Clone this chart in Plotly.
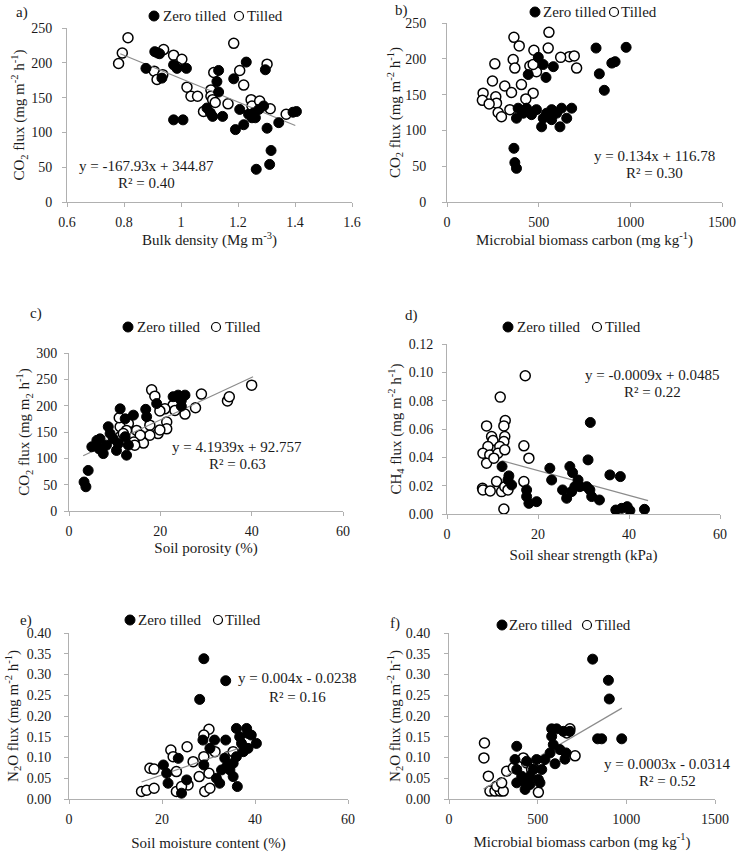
import plotly.graph_objects as go

W, H = 738, 853
FONT = "Liberation Serif, Times New Roman, Times, serif"
TXT = "#1a1a1a"
AX = "#b0b0b0"

# ---------------- data ----------------
a_zt_x = [0.877,0.908,0.918,0.925,0.933,0.974,0.986,1.019,0.974,1.007,1.091,1.103,1.111,1.132,1.126,1.132,1.146,1.185,1.191,1.206,1.229,1.220,1.249,1.255,1.273,1.290,1.296,1.302,1.316,1.311,1.264,1.343,1.393,1.405,1.261,1.237]
a_zt_y = [192,216,214,213,178,197,192,192,118,118,135,128,123,189,173,158,123,177,104,133,201,111,121,128,133,138,190,106,74,54,47,114,129,130,121,126]
a_t_x = [0.814,0.794,0.781,0.939,0.974,1.003,0.906,0.916,0.936,0.986,1.021,1.035,1.058,1.079,1.105,1.105,1.111,1.115,1.120,1.165,1.185,1.206,1.220,1.246,1.249,1.276,1.302,1.313,1.369]
a_t_y = [236,214,199,219,211,205,188,176,183,194,165,152,152,130,161,152,147,186,143,141,228,189,168,147,138,145,198,134,126]
a_fit_x = [0.787, 1.401]
a_fit_y = [213, 110]

b_zt_x = [813,977,831,858,899,917,365,370,379,498,525,540,580,443,388,379,434,461,488,516,543,571,598,625,653,616,571,680,416,525]
b_zt_y = [215,216,179,156,194,196,75,55,47,202,192,174,189,178,131,117,131,122,129,105,124,129,124,131,117,105,115,131,124,117]
b_t_x = [365,394,556,552,474,361,370,261,248,315,406,197,193,266,270,230,279,297,352,343,470,430,452,488,470,667,694,707,620]
b_t_y = [230,218,237,215,212,199,187,193,169,162,164,152,142,147,138,137,125,119,153,129,152,144,190,182,192,203,204,187,202]

c_zt_x = [3.3,3.7,4.2,5.0,6.1,6.6,7.5,8.2,8.6,9.7,10.8,12.3,12.6,13.0,10.4,6.8,11.2,12.3,14.1,16.8,17.0,19.2,22.8,23.9,25.4,24.6,24.6,9.0]
c_zt_y = [55,46,77,122,134,118,109,125,160,137,128,141,106,125,115,137,194,175,182,193,179,204,217,220,220,210,199,147]
c_t_x = [18.1,18.8,29.0,40.0,34.7,35.1,27.7,25.4,22.8,23.2,21.0,19.9,21.4,21.4,19.5,17.7,17.7,16.3,14.8,15.6,14.2,14.4,13.0,11.2,11.0,11.2,12.6,11.9,19.9]
c_t_y = [230,218,222,239,209,217,196,184,201,191,194,190,169,156,147,163,144,129,153,144,131,125,166,160,177,141,153,147,154]
c_fit_x = [3.1, 40.3]
c_fit_y = [105, 255]

d_zt_x = [12.1,13.6,14.2,13.4,17.5,17.5,18.0,19.7,22.6,23.0,25.4,26.3,27.0,27.6,28.8,28.1,29.2,31.0,30.7,31.4,31.8,31.5,33.5,35.8,38.1,37.1,38.4,39.6,40.2,43.4,27.4]
d_zt_y = [0.0335,0.0269,0.0205,0.0240,0.0170,0.0123,0.0075,0.0087,0.0323,0.0240,0.0170,0.0111,0.0335,0.0292,0.0240,0.0193,0.0193,0.0382,0.0193,0.0170,0.0123,0.0646,0.0099,0.0276,0.0264,0.0028,0.0040,0.0052,0.0024,0.0033,0.0158]
d_t_x = [17.2,11.7,8.7,12.8,12.5,12.7,12.5,9.8,10.1,9.0,11.6,7.9,9.4,11.2,12.7,8.7,10.3,16.9,18.0,7.8,7.9,9.5,10.9,12.0,12.7,16.9,12.5,13.4]
d_t_y = [0.0976,0.0825,0.0622,0.0660,0.0622,0.0547,0.0512,0.0547,0.0519,0.0476,0.0476,0.0429,0.0417,0.0429,0.0453,0.0358,0.0394,0.0481,0.0394,0.0182,0.0170,0.0163,0.0229,0.0158,0.0193,0.0229,0.0035,0.0170]
d_fit_x = [12.0, 44.2]
d_fit_y = [0.0377, 0.0094]

e_zt_x = [29.0,33.7,28.1,20.3,21.0,21.3,23.5,25.3,24.2,28.8,31.3,30.3,29.0,31.7,32.4,33.5,33.7,34.6,35.3,36.2,36.0,38.2,38.5,39.2,40.3,37.1,37.5,36.0,35.3,38.5,36.7,33.9,32.8]
e_zt_y = [0.338,0.285,0.240,0.082,0.062,0.038,0.098,0.046,0.014,0.142,0.142,0.122,0.082,0.050,0.038,0.098,0.142,0.070,0.054,0.030,0.170,0.170,0.158,0.154,0.134,0.134,0.114,0.102,0.086,0.122,0.150,0.078,0.070]
e_t_x = [30.1,29.0,25.4,21.9,22.4,26.7,17.4,18.3,15.6,16.7,18.3,23.1,23.1,25.6,28.0,29.2,30.3,30.1,29.0,31.4,34.2,35.3,24.2]
e_t_y = [0.168,0.154,0.126,0.118,0.102,0.090,0.074,0.072,0.018,0.021,0.026,0.066,0.018,0.034,0.054,0.018,0.026,0.062,0.102,0.114,0.102,0.114,0.030]
e_fit_x = [15.6, 40.3]
e_fit_y = [0.041, 0.137]

f_zt_x = [810,899,904,838,861,974,579,607,645,682,579,588,626,660,654,598,541,523,504,513,382,372,382,410,382,429,457,476,494,438,429,570,457]
f_zt_y = [0.337,0.286,0.241,0.145,0.145,0.145,0.169,0.169,0.163,0.163,0.151,0.131,0.119,0.111,0.096,0.085,0.095,0.071,0.047,0.039,0.127,0.095,0.071,0.055,0.039,0.039,0.055,0.071,0.095,0.091,0.023,0.111,0.035]
f_t_x = [200,197,222,231,259,288,269,306,297,325,363,438,504,682,711,513,466,419,664]
f_t_y = [0.135,0.099,0.055,0.019,0.019,0.019,0.031,0.019,0.039,0.067,0.075,0.087,0.016,0.169,0.104,0.091,0.071,0.099,0.159]
f_fit_x = [195, 975]
f_fit_y = [0.024, 0.219]

legend_labels = ["Zero tilled", "Tilled"]

CO2 = "CO<sub>2</sub> flux (mg m<sup>-2</sup> h<sup>-1</sup>)"
CO2c = "CO<sub>2</sub> flux (mg m<sub>2</sub> h<sup>-1</sup>)"
CH4 = "CH<sub>4</sub> flux (mg m<sup>-2</sup> h<sup>-1</sup>)"
N2O = "N<sub>2</sub>O flux (mg m<sup>-2</sup> h<sup>-1</sup>)"
MBC = "Microbial biomass carbon (mg kg<sup>-1</sup>)"

def px(x): return x / W
def py(y): return 1 - y / H

panels = [
    dict(key="a", zt=(a_zt_x, a_zt_y), t=(a_t_x, a_t_y), fit=(a_fit_x, a_fit_y),
         box=(67, 352, 28, 202), xr=[0.6, 1.6], xd=0.2, yr=[0, 250], yd=50, yf="",
         xt="Bulk density (Mg m<sup>-3</sup>)", yt=CO2, yso=2, ylso=7, xso=4,
         leg=(154, 161, 239, 245, 16), lab=(22, 12), eq=("y = -167.93x + 344.87", "R² = 0.40"), eqp=(146, 166, 183)),
    dict(key="b", zt=(b_zt_x, b_zt_y), t=(b_t_x, b_t_y), fit=None,
         box=(447, 722, 23, 202), xr=[0, 1500], xd=500, yr=[0, 250], yd=50, yf="",
         xt=MBC, yt=CO2, yso=0, ylso=13, xso=4,
         leg=(535, 541, 614, 619, 12), lab=(401, 10), eq=("y = 0.134x + 116.78", "R² = 0.30"), eqp=(654, 156, 173)),
    dict(key="c", zt=(c_zt_x, c_zt_y), t=(c_t_x, c_t_y), fit=(c_fit_x, c_fit_y),
         box=(69, 343, 353, 511), xr=[0, 60], xd=20, yr=[0, 300], yd=50, yf="",
         xt="Soil porosity (%)", yt=CO2c, yso=2, ylso=4, xso=4,
         leg=(128, 135, 216, 223, 327), lab=(36, 314), eq=("y = 4.1939x + 92.757", "R² = 0.63"), eqp=(237, 447, 464)),
    dict(key="d", zt=(d_zt_x, d_zt_y), t=(d_t_x, d_t_y), fit=(d_fit_x, d_fit_y),
         box=(447, 720, 344, 514), xr=[0, 60], xd=20, yr=[0, 0.12], yd=0.02, yf=".2f",
         xt="Soil shear strength (kPa)", yt=CH4, yso=3, ylso=6, xso=8,
         leg=(508, 515, 597, 603, 327), lab=(411, 316), eq=("y = -0.0009x + 0.0485", "R² = 0.22"), eqp=(652, 375, 392)),
    dict(key="e", zt=(e_zt_x, e_zt_y), t=(e_t_x, e_t_y), fit=(e_fit_x, e_fit_y),
         box=(69, 348, 633, 799), xr=[0, 60], xd=20, yr=[0, 0.40], yd=0.05, yf=".2f",
         xt="Soil moisture content (%)", yt=N2O, yso=4, ylso=10, xso=11,
         leg=(130, 136, 218, 223, 620), lab=(26, 620), eq=("y = 0.004x - 0.0238", "R² = 0.16"), eqp=(297, 678, 697)),
    dict(key="f", zt=(f_zt_x, f_zt_y), t=(f_t_x, f_t_y), fit=(f_fit_x, f_fit_y),
         box=(449, 715, 633, 799), xr=[0, 1500], xd=500, yr=[0, 0.40], yd=0.05, yf=".2f",
         xt=MBC, yt=N2O, yso=1, ylso=11, xso=10,
         leg=(502, 507, 587, 593, 625), lab=(395, 623), eq=("y = 0.0003x - 0.0314", "R² = 0.52"), eqp=(667, 764, 781)),
]

fig = go.Figure()
annotations = []
shapes = []
layout = {}
tfont = dict(family=FONT, size=15, color=TXT)

for i, p in enumerate(panels):
    n = "" if i == 0 else str(i + 1)
    xa, ya = "x" + n, "y" + n
    x0, x1, y0, y1 = p["box"]
    fig.add_trace(go.Scatter(x=p["t"][0], y=p["t"][1], xaxis=xa, yaxis=ya, mode="markers",
                             name=legend_labels[1], showlegend=False,
                             marker=dict(size=10, color="white", line=dict(color="black", width=1.5))))
    if p["fit"] is not None:
        fig.add_trace(go.Scatter(x=p["fit"][0], y=p["fit"][1], xaxis=xa, yaxis=ya, mode="lines",
                                 showlegend=False, line=dict(color="#8c8c8c", width=1.2)))
    fig.add_trace(go.Scatter(x=p["zt"][0], y=p["zt"][1], xaxis=xa, yaxis=ya, mode="markers",
                             name=legend_labels[0], showlegend=False,
                             marker=dict(size=10, color="black", line=dict(color="black", width=1))))
    common = dict(showline=True, linecolor=AX, linewidth=1, showgrid=False, zeroline=False,
                  ticks="outside", tickcolor=AX, ticklen=4, tickwidth=1, automargin=False,
                  tickfont=dict(family=FONT, size=14, color=TXT), fixedrange=True)
    layout["xaxis" + n] = dict(common, domain=[px(x0), px(x1)], anchor=ya, range=p["xr"], dtick=p["xd"],
                               tick0=0, ticklabelstandoff=3,
                               title=dict(text=p["xt"], font=tfont, standoff=p["xso"]))
    layout["yaxis" + n] = dict(common, domain=[py(y1), py(y0)], anchor=xa, range=p["yr"], dtick=p["yd"],
                               tick0=0, tickformat=p["yf"], ticklabelstandoff=p["ylso"],
                               title=dict(text=p["yt"], font=tfont, standoff=p["yso"]))
    # legend key (markers as shapes, labels as text)
    fcx, t1x, ocx, t2x, ly = p["leg"]
    r = 5
    shapes.append(dict(type="circle", xref="paper", yref="paper",
                       x0=px(fcx - r), x1=px(fcx + r), y0=py(ly + r), y1=py(ly - r),
                       fillcolor="black", line=dict(color="black", width=1)))
    shapes.append(dict(type="circle", xref="paper", yref="paper",
                       x0=px(ocx - 4.5), x1=px(ocx + 4.5), y0=py(ly + 4.5), y1=py(ly - 4.5),
                       fillcolor="white", line=dict(color="black", width=1.2)))
    annotations.append(dict(xref="paper", yref="paper", x=px(t1x), y=py(ly), text=legend_labels[0],
                            showarrow=False, font=tfont, xanchor="left", yanchor="middle"))
    annotations.append(dict(xref="paper", yref="paper", x=px(t2x), y=py(ly), text=legend_labels[1],
                            showarrow=False, font=tfont, xanchor="left", yanchor="middle"))
    annotations.append(dict(xref="paper", yref="paper", x=px(p["lab"][0]), y=py(p["lab"][1]),
                            text=p["key"] + ")", showarrow=False, font=tfont,
                            xanchor="center", yanchor="middle"))
    ex, ey1, ey2 = p["eqp"]
    annotations.append(dict(xref="paper", yref="paper", x=px(ex), y=py(ey1), text=p["eq"][0], showarrow=False,
                            font=tfont, xanchor="center", yanchor="middle"))
    annotations.append(dict(xref="paper", yref="paper", x=px(ex), y=py(ey2), text=p["eq"][1], showarrow=False,
                            font=tfont, xanchor="center", yanchor="middle"))

fig.update_layout(**layout)
fig.update_layout(width=W, height=H, margin=dict(l=0, r=0, t=0, b=0, autoexpand=False),
                  paper_bgcolor="white", plot_bgcolor="white", hovermode=False,
                  font=dict(family=FONT, color=TXT), annotations=annotations, shapes=shapes,
                  showlegend=False)
fig.write_html("out.html", config={"displayModeBar": False},
               post_script="document.body.style.margin='0px';document.body.style.overflow='hidden';")
